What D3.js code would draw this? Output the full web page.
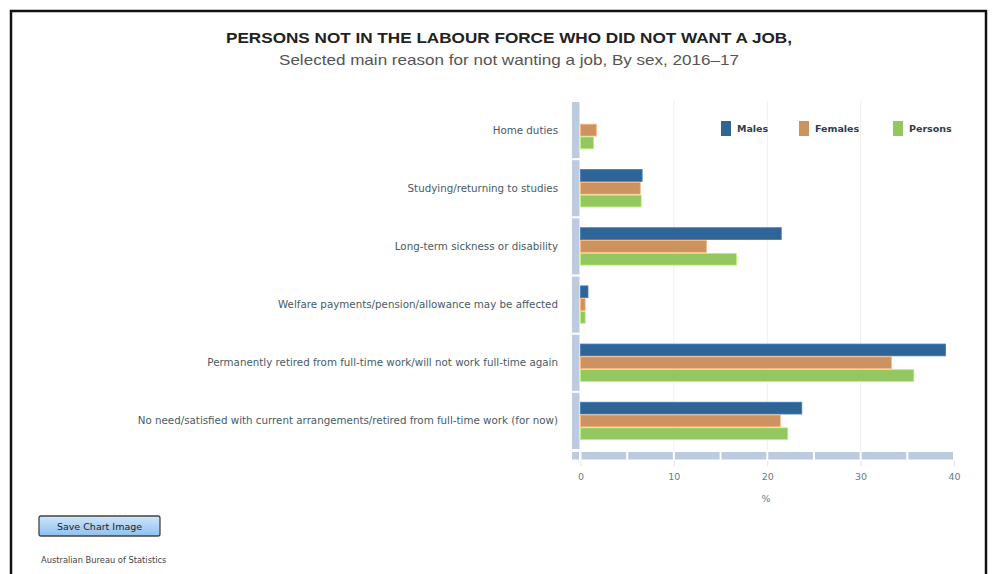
<!DOCTYPE html>
<html><head><meta charset="utf-8">
<script src="https://cdn.jsdelivr.net/npm/d3@7"></script>
<style>body{margin:0;background:#fff}svg{display:block}</style>
</head><body><svg id="c" width="994" height="574"></svg>
<script>
const categories = [
  "Home duties",
  "Studying/returning to studies",
  "Long-term sickness or disability",
  "Welfare payments/pension/allowance may be affected",
  "Permanently retired from full-time work/will not work full-time again",
  "No need/satisfied with current arrangements/retired from full-time work (for now)"
];
const seriesNames = ["Males", "Females", "Persons"];
const males   = [0.0, 6.6, 21.5, 0.8, 39.1, 23.7];
const females = [1.7, 6.4, 13.5, 0.5, 33.3, 21.4];
const persons = [1.4, 6.5, 16.7, 0.5, 35.7, 22.2];
const xTicks = [0, 10, 20, 30, 40];
const colors = ["#2f6497", "#cc9361", "#94c75f"];

const svg = d3.select("#c");
// frame
svg.append("rect").attr("x",11).attr("y",11).attr("width",975).attr("height",580)
  .attr("fill","none").attr("stroke","#111").attr("stroke-width",2.5);

svg.append("text").attr("x",509).attr("y",43).attr("text-anchor","middle")
  .attr("font-family","Liberation Sans, Arial, sans-serif").attr("font-weight","bold")
  .attr("font-size",15).attr("fill","#222").attr("textLength",566).attr("lengthAdjust","spacingAndGlyphs")
  .text("PERSONS NOT IN THE LABOUR FORCE WHO DID NOT WANT A JOB,");
svg.append("text").attr("x",509).attr("y",65).attr("text-anchor","middle")
  .attr("font-family","Liberation Sans, Arial, sans-serif")
  .attr("font-size",15).attr("fill","#555").attr("textLength",460).attr("lengthAdjust","spacingAndGlyphs")
  .text("Selected main reason for not wanting a job, By sex, 2016–17");

const x = d3.scaleLinear().domain([0,40]).range([580.5, 954]);
const y = d3.scaleBand().domain(categories).range([101, 450]).paddingInner(0.34).paddingOuter(0.17);
const y1 = d3.scaleBand().domain(seriesNames).range([0, y.bandwidth()]);
const outer = d3.scaleBand().domain(categories).range([101, 450]);

// gridlines
svg.append("g").selectAll("line").data(xTicks.slice(1,4)).join("line")
  .attr("x1",d=>x(d)).attr("x2",d=>x(d)).attr("y1",101).attr("y2",450)
  .attr("stroke","#efefef").attr("stroke-width",1);

// left band segments
svg.append("g").selectAll("rect").data(categories).join("rect")
  .attr("x",572).attr("width",7.5)
  .attr("y",d=>outer(d)+1).attr("height",outer.bandwidth()-2)
  .attr("fill","#bccbdf");

// bottom band segments every 5
const segs = d3.range(0,40,5);
svg.append("rect").attr("x",572).attr("y",452).attr("width",7).attr("height",7.5).attr("fill","#bccbdf");
svg.append("g").selectAll("rect").data(segs).join("rect")
  .attr("x",d=>x(d)+1).attr("width",d=>x(d+5)-x(d)-2)
  .attr("y",452).attr("height",7.5).attr("fill","#bccbdf");

// bars
const data = [males, females, persons];
const g = svg.append("g");
categories.forEach((c,i)=>{
  seriesNames.forEach((s,j)=>{
    const v = data[j][i];
    if (v<=0) return;
    g.append("rect").attr("x",x(0)).attr("y",y(c)+y1(s)+0.5)
      .attr("width",x(v)-x(0)).attr("height",y1.bandwidth()-1)
      .attr("fill",colors[j]).attr("stroke", d3.color(colors[j]).brighter(0.6)).attr("stroke-width",0.8);
  });
});

// category labels
svg.append("g").selectAll("text").data(categories).join("text")
  .attr("x",558).attr("y",d=>outer(d)+outer.bandwidth()/2+3.5)
  .attr("text-anchor","end").attr("font-family","DejaVu Sans, Verdana, sans-serif")
  .attr("font-size",10.3).attr("fill","#475a66").text(d=>d);

// x axis
const ax = svg.append("g").attr("transform","translate(0,461)")
  .call(d3.axisBottom(x).tickValues(xTicks).tickSize(5).tickPadding(7));
ax.select(".domain").remove();
ax.selectAll("line").attr("stroke","#dde4ec");
ax.selectAll("text").attr("font-family","DejaVu Sans, Verdana, sans-serif").attr("font-size",9.5).attr("fill","#6a7a85");
svg.append("text").attr("x",766).attr("y",502).attr("text-anchor","middle")
  .attr("font-family","DejaVu Sans, Verdana, sans-serif").attr("font-size",9.5).attr("fill","#6a7a85").text("%");

// legend
const lx = [721, 799, 893];
seriesNames.forEach((s,j)=>{
  svg.append("rect").attr("x",lx[j]).attr("y",121).attr("width",10).attr("height",15).attr("fill",colors[j]);
  svg.append("text").attr("x",lx[j]+16).attr("y",131.5).attr("font-family","DejaVu Sans, Verdana, sans-serif")
    .attr("font-weight","bold").attr("font-size",9.5).attr("fill","#2e3e4c").text(s);
});

// button
const defs = svg.append("defs");
const grad = defs.append("linearGradient").attr("id","btn").attr("x1",0).attr("x2",0).attr("y1",0).attr("y2",1);
grad.append("stop").attr("offset","0%").attr("stop-color","#cfe6fb");
grad.append("stop").attr("offset","100%").attr("stop-color","#8fc0f0");
svg.append("rect").attr("x",39).attr("y",516).attr("width",121).attr("height",20).attr("rx",2)
  .attr("fill","url(#btn)").attr("stroke","#444").attr("stroke-width",1.3);
svg.append("text").attr("x",99.5).attr("y",529.5).attr("text-anchor","middle")
  .attr("font-family","DejaVu Sans, Verdana, sans-serif").attr("font-size",9.5).attr("fill","#222").text("Save Chart Image");
svg.append("text").attr("x",41).attr("y",563)
  .attr("font-family","DejaVu Sans, Verdana, sans-serif").attr("font-size",8.3).attr("fill","#444").text("Australian Bureau of Statistics");
</script></body></html>
